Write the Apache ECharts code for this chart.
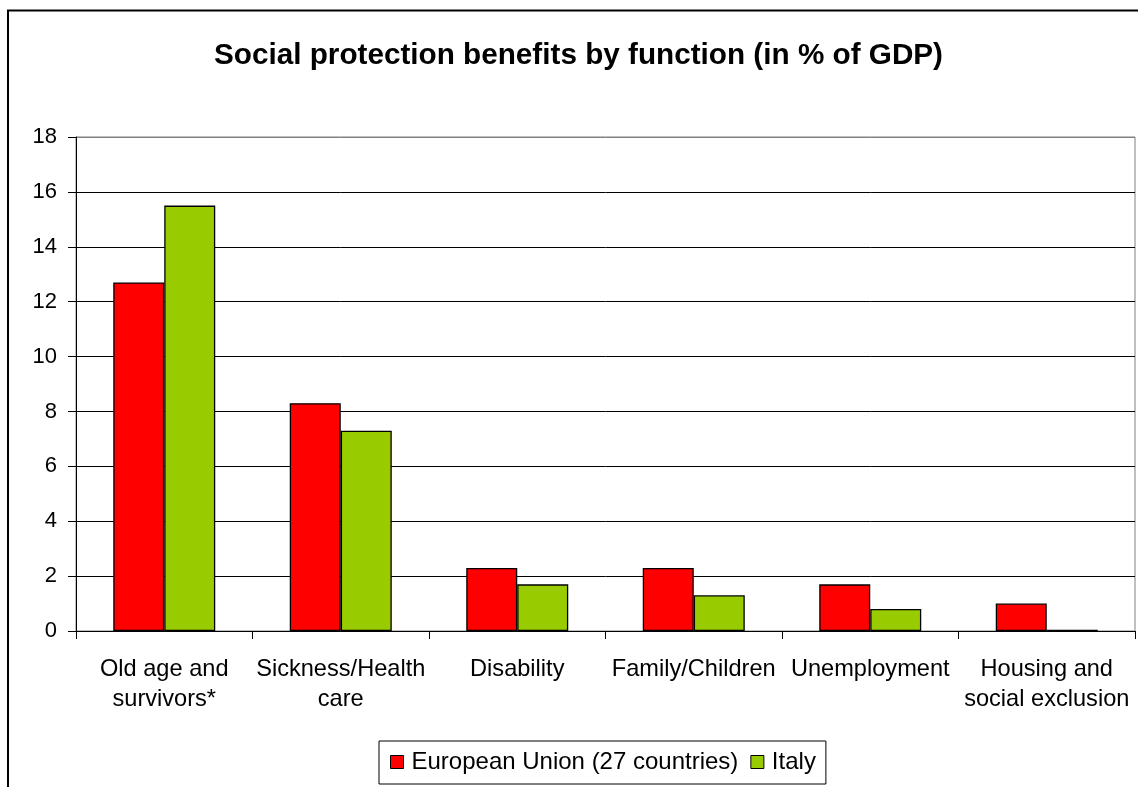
<!DOCTYPE html>
<html>
<head>
<meta charset="utf-8">
<script src="https://cdn.jsdelivr.net/npm/echarts@6/dist/echarts.min.js"></script>
<style>
  html, body { margin: 0; padding: 0; background: #fff; }
  #chart { width: 1138px; height: 787px; }
</style>
</head>
<body>
<div id="chart"></div>
<script>
// Social protection benefits by function, % of GDP
const categories = [
  'Old age and\nsurvivors*',
  'Sickness/Health\ncare',
  'Disability',
  'Family/Children',
  'Unemployment',
  'Housing and\nsocial exclusion'
];
const seriesNames = ['European Union (27 countries)', 'Italy'];
const euValues = [12.7, 8.3, 2.3, 2.3, 1.7, 1.0];
const italyValues = [15.5, 7.3, 1.7, 1.3, 0.8, 0.05];
const yTicks = { min: 0, max: 18, interval: 2 };

const FONT = "'Liberation Sans', Arial, sans-serif";
const chart = echarts.init(document.getElementById('chart'), null, { renderer: 'canvas' });

// one colour per horizontal gridline, the topmost one doubles as the plot frame
const gridColors = [];
for (let v = yTicks.min; v <= yTicks.max; v += yTicks.interval) {
  gridColors.push(v === yTicks.max ? '#808080' : '#000000');
}

chart.setOption({
  animation: false,
  backgroundColor: '#ffffff',
  textStyle: { fontFamily: FONT },
  graphic: [{
    type: 'rect',
    shape: { x: 8, y: 10.5, width: 1300, height: 1000 },
    style: { fill: 'none', stroke: '#000', lineWidth: 2 },
    silent: true,
    z: 100
  }],
  title: {
    text: 'Social protection benefits by function (in % of GDP)',
    left: 214,
    top: 41,
    padding: 0,
    textStyle: { fontFamily: FONT, fontWeight: 'bold', fontSize: 29.7, color: '#000' }
  },
  legend: {
    data: seriesNames,
    left: 379,
    top: 741,
    padding: [9, 10, 10, 11],
    itemGap: 12,
    itemWidth: 13,
    itemHeight: 13,
    borderColor: '#000',
    borderWidth: 1,
    icon: 'rect',
    itemStyle: { borderColor: '#000', borderWidth: 1 },
    textStyle: { fontFamily: FONT, fontSize: 24, color: '#000', padding: [0, 0, 0, 3] }
  },
  grid: {
    left: 76,
    right: 3,
    top: 137,
    bottom: 156,
    show: true,
    borderColor: '#808080',
    borderWidth: 1,
    containLabel: false
  },
  xAxis: {
    type: 'category',
    data: categories,
    axisLine: { lineStyle: { color: '#000', width: 1 } },
    axisTick: { show: true, length: 8, lineStyle: { color: '#000' } },
    axisLabel: {
      interval: 0,
      margin: 23,
      fontFamily: FONT,
      fontSize: 23.6,
      lineHeight: 30,
      color: '#000'
    }
  },
  yAxis: {
    type: 'value',
    min: yTicks.min,
    max: yTicks.max,
    interval: yTicks.interval,
    axisLine: { show: true, lineStyle: { color: '#000', width: 1 } },
    axisTick: { show: true, length: 8, lineStyle: { color: '#000' } },
    axisLabel: { margin: 19, fontFamily: FONT, fontSize: 22, color: '#000' },
    splitLine: { show: true, lineStyle: { color: gridColors, width: 1 } }
  },
  series: [
    {
      name: seriesNames[0],
      type: 'bar',
      data: euValues,
      barWidth: 51,
      barGap: '0%',
      itemStyle: { color: '#ff0000', borderColor: '#000', borderWidth: 1.3 }
    },
    {
      name: seriesNames[1],
      type: 'bar',
      data: italyValues,
      barWidth: 51,
      barGap: '0%',
      itemStyle: { color: '#99cc00', borderColor: '#000', borderWidth: 1.3 }
    }
  ]
});
</script>
</body>
</html>
